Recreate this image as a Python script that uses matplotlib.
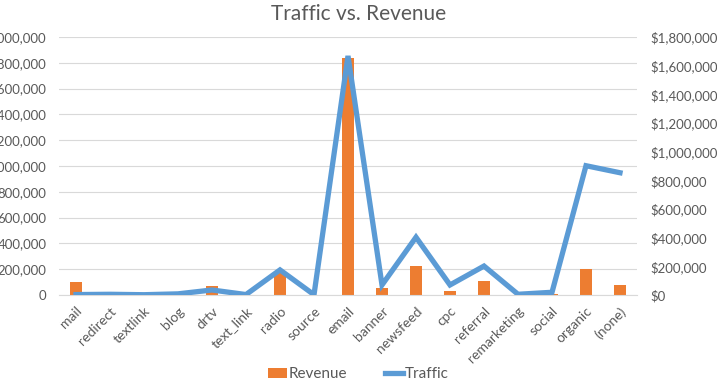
import matplotlib
matplotlib.use('Agg')
import matplotlib.pyplot as plt
from matplotlib.ticker import FuncFormatter, MultipleLocator
import numpy as np

plt.rcParams['font.family'] = ['Lato', 'DejaVu Sans']

channels = ['mail', 'redirect', 'textlink', 'blog', 'drtv', 'text_link', 'radio',
            'source', 'email', 'banner', 'newsfeed', 'cpc', 'referral',
            'remarketing', 'social', 'organic', '(none)']
revenue = [103000, 20000, 3000, 5000, 70000, 3000, 175000, 1000, 1835000,
           52000, 227000, 31000, 108000, 3000, 5000, 199000, 80000]
traffic = [3000, 5000, 2000, 8000, 35000, 3000, 175000, 2000, 1668000,
           70000, 403000, 70000, 202000, 5000, 19000, 902000, 853000]

orange = '#ED7D31'
blue = '#5B9BD5'
grey = '#595959'

fig = plt.figure(figsize=(7.17, 3.81), dpi=100)
ax = fig.add_axes([59/717, 1 - 295/381, 578/717, 258/381])
ax2 = ax.twinx()

x = np.arange(len(channels))
ax.bar(x, revenue, width=0.33, color=orange, label='Revenue', zorder=2)
ax2.plot(x, traffic, color=blue, lw=3.8, label='Traffic', zorder=3,
         solid_joinstyle='miter')

ax.set_xlim(-0.5, len(channels) - 0.5)
ax.set_ylim(0, 2000000)
ax2.set_ylim(0, 1800000)
ax.yaxis.set_major_locator(MultipleLocator(200000))
ax2.yaxis.set_major_locator(MultipleLocator(200000))
ax.yaxis.set_major_formatter(FuncFormatter(lambda v, p: f'{v:,.0f}'))
ax2.yaxis.set_major_formatter(FuncFormatter(lambda v, p: f'${v:,.0f}'))

ax.grid(axis='y', color='#D9D9D9', lw=0.8, zorder=0)
ax.set_axisbelow(True)
for a in (ax, ax2):
    for s in a.spines.values():
        s.set_visible(False)
    a.tick_params(length=0, colors=grey, labelsize=9.5)
ax.spines['bottom'].set_visible(True)
ax.spines['bottom'].set_color('#D9D9D9')
ax.tick_params(axis='y', pad=9)
ax2.tick_params(axis='y', pad=10)

ax.set_xticks(x)
ax.set_xticklabels(channels, rotation=45, ha='right', rotation_mode='anchor',
                   fontsize=10)
ax.tick_params(axis='x', pad=7)

fig.text(0.5, 0.963, 'Traffic vs. Revenue', ha='center', va='center',
         fontsize=15, color=grey)

h1, l1 = ax.get_legend_handles_labels()
h2, l2 = ax2.get_legend_handles_labels()
fig.legend(h1 + h2, l1 + l2, loc='lower center', bbox_to_anchor=(0.5, -0.037),
           ncol=2, frameon=False, fontsize=11, labelcolor=grey,
           handlelength=1.2, handletextpad=0.1, columnspacing=2.5)

fig.savefig('out.png', dpi=100)
